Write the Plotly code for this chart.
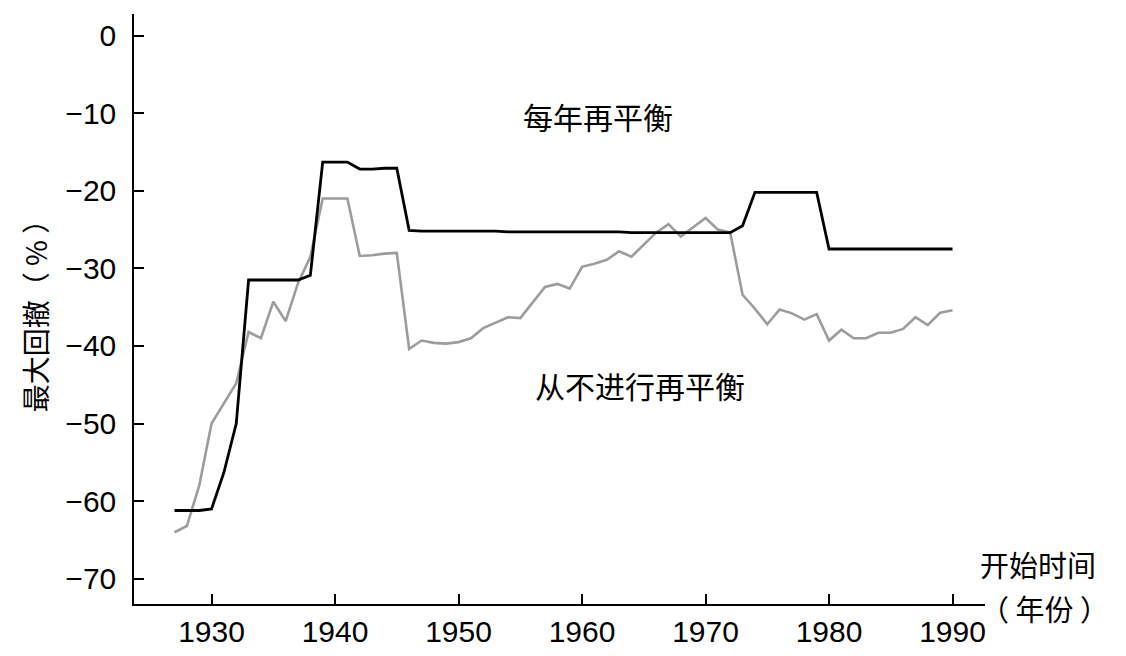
import plotly.graph_objects as go

# years of the start date
years = list(range(1927, 1991))

# max drawdown (%), rebalanced every year
rebalanced = [
    -61.2, -61.2, -61.2, -61.0, -56.3, -50.0, -31.5, -31.5, -31.5, -31.5,
    -31.5, -30.9, -16.3, -16.3, -16.3, -17.2, -17.2, -17.1, -17.1, -25.1,
    -25.2, -25.2, -25.2, -25.2, -25.2, -25.2, -25.2, -25.3, -25.3, -25.3,
    -25.3, -25.3, -25.3, -25.3, -25.3, -25.3, -25.3, -25.4, -25.4, -25.4,
    -25.4, -25.4, -25.4, -25.4, -25.4,
    -25.4, -24.5, -20.2, -20.2, -20.2, -20.2, -20.2, -20.2, -27.5, -27.5,
    -27.5, -27.5, -27.5, -27.5, -27.5, -27.5, -27.5, -27.5, -27.5,
]

# max drawdown (%), never rebalanced
never_rebalanced = [
    -64.0, -63.2, -58.0, -50.0, -47.4, -44.8, -38.2, -39.0, -34.3, -36.8,
    -31.9, -28.5, -21.0, -21.0, -21.0, -28.4, -28.3, -28.1, -28.0, -40.4,
    -39.3, -39.6, -39.7, -39.5, -39.0, -37.7, -37.0, -36.3, -36.4, -34.4,
    -32.4, -32.0, -32.6, -29.8, -29.4, -28.9, -27.8, -28.5, -27.0, -25.4,
    -24.3, -25.9, -24.7, -23.5, -25.0,
    -25.4, -33.4, -35.2, -37.2, -35.3, -35.8, -36.6, -35.9, -39.3, -37.9,
    -39.0, -39.0, -38.3, -38.3, -37.8, -36.3, -37.3, -35.7, -35.4,
]

yticks = [0, -10, -20, -30, -40, -50, -60, -70]
xticks = [1930, 1940, 1950, 1960, 1970, 1980, 1990]

FONT = "Liberation Sans, Noto Sans CJK SC"
CJK = "Noto Sans CJK SC"

fig = go.Figure()
fig.add_trace(go.Scatter(x=years, y=never_rebalanced, mode="lines",
                         line=dict(color="#9c9c9c", width=2.6),
                         name="从不进行再平衡"))
fig.add_trace(go.Scatter(x=years, y=rebalanced, mode="lines",
                         line=dict(color="#000000", width=2.8),
                         name="每年再平衡"))

fig.add_annotation(x=1961.3, y=-10.4, text="每年再平衡", showarrow=False,
                   font=dict(family=CJK, size=30, color="black"))
fig.add_annotation(x=1964.7, y=-45.0, text="从不进行再平衡", showarrow=False,
                   font=dict(family=CJK, size=30, color="black"))
# x axis title, two lines to the right of the axis end
fig.add_annotation(xref="paper", yref="paper", x=0.993, y=0.03,
                   xanchor="left", yanchor="bottom", text="开始时间",
                   showarrow=False, borderpad=0,
                   font=dict(family=CJK, size=29, color="black"))
fig.add_annotation(xref="paper", yref="paper", x=0.993, y=0.03,
                   xanchor="left", yanchor="top", text="（ 年份 ）",
                   showarrow=False, borderpad=0,
                   font=dict(family=CJK, size=29, color="black"))

fig.update_layout(
    width=1126, height=656,
    margin=dict(l=134, r=141, t=14, b=52),
    paper_bgcolor="white", plot_bgcolor="white",
    showlegend=False,
    font=dict(family=FONT, size=30, color="black"),
)
fig.update_xaxes(range=[1923.72, 1992.63], tickvals=xticks, automargin=False,
                 showgrid=False, zeroline=False,
                 showline=True, linecolor="black", linewidth=1.5,
                 ticks="inside", ticklen=10, tickwidth=1.5, tickcolor="black",
                 tickfont=dict(size=30))
fig.update_yaxes(range=[-73.25, 2.78], tickvals=yticks, automargin=False,
                 showgrid=False, zeroline=False,
                 showline=True, linecolor="black", linewidth=1.5,
                 ticks="inside", ticklen=10, tickwidth=1.5, tickcolor="black",
                 tickfont=dict(size=30), ticklabelstandoff=10,
                 title=dict(text="最大回撤（ % ）", font=dict(family=CJK, size=28),
                            standoff=10))

fig.write_html("out.html", config={"displayModeBar": False},
               post_script="document.body.style.margin = '0';")
